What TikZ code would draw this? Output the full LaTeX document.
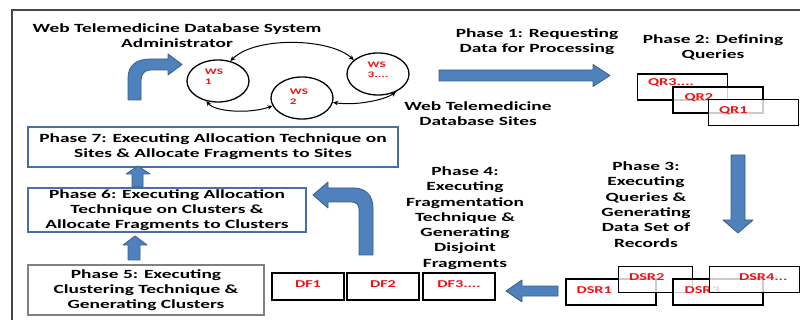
\documentclass[tikz,border=0pt]{standalone}
\usepackage{fontspec}
\setmainfont[FakeStretch=1.55]{Carlito}
\usetikzlibrary{shapes.geometric,arrows.meta}
\definecolor{ablue}{RGB}{79,129,189}
\definecolor{ablueD}{RGB}{56,93,138}
\definecolor{bblue}{RGB}{72,112,165}
\definecolor{lred}{RGB}{235,20,20}
\definecolor{framecol}{RGB}{70,70,70}
\begin{document}
\begin{tikzpicture}[x=1pt,y=-1pt,
  txt/.style={font=\bfseries\fontsize{12.5}{15.3}\selectfont, align=center, inner sep=0pt, text=black},
  lbl/.style={font=\bfseries\fontsize{10.5}{12}\selectfont, text=lred, inner sep=0pt, text opacity=1},
  wslbl/.style={font=\bfseries\fontsize{8.5}{10}\selectfont, text=lred, inner sep=0pt, align=left},
  wsell/.style={ellipse, draw=black, line width=1.3pt, minimum width=62pt, minimum height=42pt, inner sep=0pt},
  rbox/.style={draw=black, line width=1.4pt, fill=white, fill opacity=0.8, draw opacity=1, minimum width=90pt, minimum height=26pt, inner sep=0pt},
  dfbox/.style={draw=black, line width=1.6pt, fill=white, minimum width=72pt, minimum height=27pt, inner sep=0pt},
  bbox/.style={draw=bblue, line width=2pt, fill=white, inner sep=0pt, font=\bfseries\fontsize{12.5}{15.3}\selectfont, align=center},
  gbox/.style={draw=black!50, line width=1.5pt, fill=white, inner sep=0pt, font=\bfseries\fontsize{12.5}{15.3}\selectfont, align=center},
  blockarrow/.style={fill=ablue, draw=ablueD, line width=0.8pt, line join=round},
  conn/.style={{Stealth[length=5pt,width=4.5pt]}-{Stealth[length=5pt,width=4.5pt]}, line width=1pt, black}
]
\useasboundingbox (0,0) rectangle (800,320);
% frame
\draw[framecol, line width=1.5pt] (800,10) -- (12,10) -- (12,320);

% title
\node[txt] (title) at (177,36) {Web Telemedicine Database System\\Administrator};

% bent arrow up-right
\path[blockarrow] (128,100) -- (128,78) .. controls (128,66) and (136,59) .. (150,59) -- (168,59) -- (168,54) -- (182,64.5) -- (168,75) -- (168,70) -- (150,70) .. controls (145,70) and (141,74) .. (141,80) -- (141,100) -- cycle;

% web sites
\node[wsell] (ws1) at (218,81) {};
\node[wslbl] (ws1t) at (214,77) {WS\\1};
\node[wsell] (ws2) at (302,98) {};
\node[wslbl] (ws2t) at (299,97) {WS\\2};
\node[wsell] (ws3) at (378,74) {};
\node[wslbl] (ws3t) at (378,70) {WS\\3....};
\draw[conn] (ws1.58) .. controls (255,36) and (330,38) .. (ws3.150);
\draw[conn] (ws1.240) .. controls (215,112) and (250,114) .. (ws2.195);
\draw[conn] (ws2.-8) .. controls (355,106) and (385,100) .. (ws3.-45);

\node[txt] (sites) at (478,113.5) {Web Telemedicine\\Database Sites};

% phase 1
\node[txt] (p1) at (537,42) {Phase 1: Requesting\\Data for Processing};
\path[blockarrow] (439,70) -- (593,70) -- (593,64.5) -- (610,75.5) -- (593,86.5) -- (593,81) -- (439,81) -- cycle;

% phase 2
\node[txt] (p2) at (713,47.5) {Phase 2: Defining\\Queries};
\node[rbox] (qr3) at (682.5,87) {};
\node[lbl, anchor=west] (qr3t) at ([xshift=11pt,yshift=4pt]qr3.west) {QR3....};
\node[rbox] (qr2) at (718,100) {};
\node[lbl, anchor=west] (qr2t) at ([xshift=12pt,yshift=2pt]qr2.west) {QR2};
\node[rbox] (qr1) at (753.5,112.5) {};
\node[lbl, anchor=west] (qr1t) at ([xshift=11pt,yshift=2pt]qr1.west) {QR1};

% down arrow
\path[blockarrow] (731,155) -- (745,155) -- (745,220) -- (753,220) -- (738,233) -- (723,220) -- (731,220) -- cycle;

% phase 3
\node[txt] (p3) at (646,204.5) {Phase 3:\\Executing\\Queries \&\\Generating\\Data Set of\\Records};

% DSR boxes
\node[rbox] (dsr1) at (611,292) {};
\node[lbl, anchor=west] (dsr1t) at ([xshift=11pt,yshift=2pt]dsr1.west) {DSR1};
\node[rbox, minimum width=74pt] (dsr2) at (655.5,279.5) {};
\node[lbl, anchor=west] (dsr2t) at ([xshift=11pt,yshift=2.5pt]dsr2.west) {DSR2};
\node[rbox] (dsr3) at (718,292) {};
\node[lbl, anchor=west] (dsr3t) at ([xshift=12pt,yshift=2pt]dsr3.west) {DSR3};
\node[rbox] (dsr4) at (754.5,279.5) {};
\node[lbl, anchor=west] (dsr4t) at ([xshift=30pt,yshift=2.5pt]dsr4.west) {DSR4...};

% left arrow
\path[blockarrow] (558,286) -- (522,286) -- (522,280) -- (506,291) -- (522,302) -- (522,296) -- (558,296) -- cycle;

% phase 4
\node[txt] (p4) at (465,218) {Phase 4:\\Executing\\Fragmentation\\Technique \&\\Generating\\Disjoint\\Fragments};

% DF boxes
\node[dfbox] (df1) at (308,286.5) {};
\node[lbl] (df1t) at ([yshift=2.5pt]df1.center) {DF1};
\node[dfbox] (df2) at (383,286.5) {};
\node[lbl] (df2t) at ([yshift=2.5pt]df2.center) {DF2};
\node[dfbox] (df3) at (459,286.5) {};
\node[lbl] (df3t) at ([yshift=2.5pt]df3.center) {DF3....};

% bent arrow up-left
\path[blockarrow] (373,255) -- (373,208) .. controls (373,196) and (366,188) .. (354,188) -- (328,188) -- (328,182) -- (313,195) -- (328,208) -- (328,202) -- (352,202) .. controls (356,202) and (359,205) .. (359,209) -- (359,255) -- cycle;

% phase boxes
\node[bbox, minimum width=370pt, minimum height=40pt] (p7) at (213,147) {Phase 7: Executing Allocation Technique on\\Sites \& Allocate Fragments to Sites};
\node[bbox, minimum width=278pt, minimum height=44pt] (p6) at (167,210) {Phase 6: Executing Allocation\\Technique on Clusters \&\\Allocate Fragments to Clusters};
\node[gbox, minimum width=236pt, minimum height=50pt] (p5) at (146,290) {Phase 5: Executing\\Clustering Technique \&\\Generating Clusters};

% small up arrows
\path[blockarrow] (132,187) -- (132,174) -- (126,174) -- (138,166) -- (150,174) -- (143,174) -- (143,187) -- cycle;
\path[blockarrow] (128,260) -- (128,245) -- (123,245) -- (135,236) -- (147,245) -- (140,245) -- (140,260) -- cycle;
\end{tikzpicture}
\end{document}
